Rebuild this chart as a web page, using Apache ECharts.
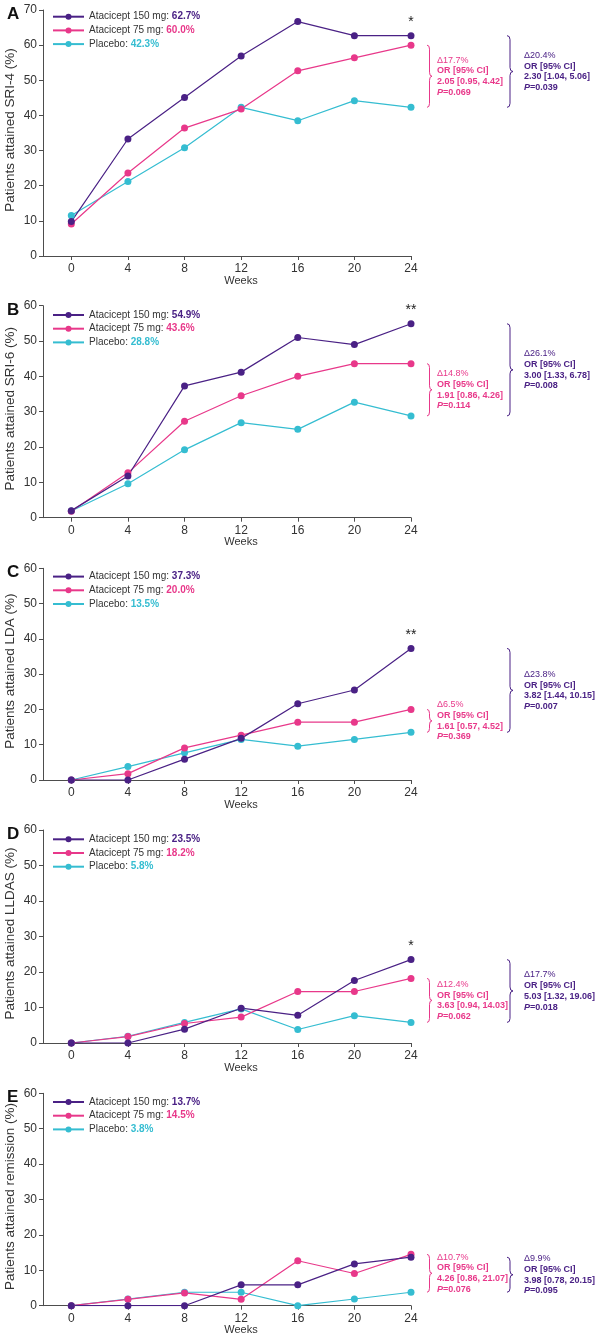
<!DOCTYPE html>
<html>
<head>
<meta charset="utf-8">
<script src="https://cdn.jsdelivr.net/npm/echarts@6/dist/echarts.min.js"></script>
<style>
html,body{margin:0;padding:0;background:#fff;}
#c{width:601px;height:1339px;}
</style>
</head>
<body>
<div id="c"></div>
<script>
// ---------- data ----------
const weeks = [0, 4, 8, 12, 16, 20, 24];
const panelLetters = ['A', 'B', 'C', 'D', 'E'];
const yAxisNames = [
  'Patients attained SRI-4 (%)',
  'Patients attained SRI-6 (%)',
  'Patients attained LDA (%)',
  'Patients attained LLDAS (%)',
  'Patients attained remission (%)'
];
const yAxisMax = [70, 60, 60, 60, 60];
const groupLabels = ['Atacicept 150 mg', 'Atacicept 75 mg', 'Placebo'];

const sri4_150 = [9.8, 33.3, 45.1, 56.9, 66.7, 62.7, 62.7];
const sri4_75  = [9.1, 23.6, 36.4, 41.8, 52.7, 56.4, 60.0];
const sri4_pbo = [11.5, 21.2, 30.8, 42.3, 38.5, 44.2, 42.3];

const sri6_150 = [2.0, 11.8, 37.3, 41.2, 51.0, 49.0, 54.9];
const sri6_75  = [1.8, 12.7, 27.3, 34.5, 40.0, 43.6, 43.6];
const sri6_pbo = [1.9, 9.6, 19.2, 26.9, 25.0, 32.7, 28.8];

const lda_150 = [0, 0, 5.9, 11.8, 21.6, 25.5, 37.3];
const lda_75  = [0, 1.8, 9.1, 12.7, 16.4, 16.4, 20.0];
const lda_pbo = [0, 3.8, 7.7, 11.5, 9.6, 11.5, 13.5];

const lldas_150 = [0, 0, 3.9, 9.8, 7.8, 17.6, 23.5];
const lldas_75  = [0, 1.8, 5.5, 7.3, 14.5, 14.5, 18.2];
const lldas_pbo = [0, 1.9, 5.8, 9.6, 3.8, 7.7, 5.8];

const rem_150 = [0, 0, 0, 5.9, 5.9, 11.8, 13.7];
const rem_75  = [0, 1.8, 3.6, 1.8, 12.7, 9.1, 14.5];
const rem_pbo = [0, 1.9, 3.8, 3.8, 0, 1.9, 3.8];

const sigMarks = ['*', '**', '**', '*', ''];

// annotation text: [delta, OR line, estimate, p-value]
const notes75 = [
  ['\u039417.7%', 'OR [95% CI]', '2.05 [0.95, 4.42]', '0.069'],
  ['\u039414.8%', 'OR [95% CI]', '1.91 [0.86, 4.26]', '0.114'],
  ['\u03946.5%',  'OR [95% CI]', '1.61 [0.57, 4.52]', '0.369'],
  ['\u039412.4%', 'OR [95% CI]', '3.63 [0.94, 14.03]', '0.062'],
  ['\u039410.7%', 'OR [95% CI]', '4.26 [0.86, 21.07]', '0.076']
];
const notes150 = [
  ['\u039420.4%', 'OR [95% CI]', '2.30 [1.04, 5.06]', '0.039'],
  ['\u039426.1%', 'OR [95% CI]', '3.00 [1.33, 6.78]', '0.008'],
  ['\u039423.8%', 'OR [95% CI]', '3.82 [1.44, 10.15]', '0.007'],
  ['\u039417.7%', 'OR [95% CI]', '5.03 [1.32, 19.06]', '0.018'],
  ['\u03949.9%',  'OR [95% CI]', '3.98 [0.78, 20.15]', '0.095']
];

const panels = [
  [sri4_150, sri4_75, sri4_pbo],
  [sri6_150, sri6_75, sri6_pbo],
  [lda_150, lda_75, lda_pbo],
  [lldas_150, lldas_75, lldas_pbo],
  [rem_150, rem_75, rem_pbo]
];

// ---------- styling / layout ----------
const COLORS = ['#4a2185', '#e8388a', '#35bdd1'];
const FONT = 'Liberation Sans, Arial, Helvetica, sans-serif';
const gridTops = [10, 305.7, 568.3, 830, 1093.3];
const gridHeights = [246, 212, 211.7, 213, 212.4];
const legendOffsets = [6.7, 9.3, 8.3, 9.3, 8.7];
const axisColor = '#4d4d4d';
const labelColor = '#333';

const grids = [], xAxes = [], yAxes = [], series = [], legends = [], titles = [];
const legendText = {};

panels.forEach((arrs, p) => {
  grids.push({ left: 43, width: 368, top: gridTops[p], height: gridHeights[p],
               containLabel: false, outerBoundsMode: 'none' });
  xAxes.push({
    type: 'value', gridIndex: p, min: -2, max: 24,
    name: 'Weeks', nameLocation: 'middle', nameGap: 19, nameMoveOverlap: false,
    nameTextStyle: { fontSize: 11, color: labelColor, fontFamily: FONT, padding: [0, 0, 0, 28] },
    axisLine: { show: true, onZero: false, lineStyle: { color: axisColor, width: 1 } },
    axisTick: { show: true, length: 4, customValues: weeks, lineStyle: { color: axisColor } },
    axisLabel: { customValues: weeks, fontSize: 12, color: labelColor, fontFamily: FONT, margin: 7 },
    splitLine: { show: false }
  });
  yAxes.push({
    type: 'value', gridIndex: p, min: 0, max: yAxisMax[p], interval: 10,
    name: yAxisNames[p], nameLocation: 'middle', nameGap: 26, nameMoveOverlap: false,
    nameTextStyle: { fontSize: 13.5, color: labelColor, fontFamily: FONT, padding: [0, 0, 0, 6] },
    axisLine: { show: true, onZero: false, lineStyle: { color: axisColor, width: 1 } },
    axisTick: { show: true, length: 4, lineStyle: { color: axisColor } },
    axisLabel: { fontSize: 12, color: labelColor, fontFamily: FONT, margin: 6 },
    splitLine: { show: false }
  });
  titles.push({
    text: panelLetters[p], left: 2, top: gridTops[p] - 9,
    textStyle: { fontSize: 17, fontWeight: 'bold', color: '#111', fontFamily: FONT }
  });

  const names = [];
  // draw order: placebo, 75, 150 (150 on top)
  [2, 1, 0].forEach(g => {
    const name = panelLetters[p] + '-' + g;
    const arr = arrs[g];
    const data = weeks.map((w, i) => {
      if (g === 0 && i === weeks.length - 1 && sigMarks[p]) {
        return {
          value: [w, arr[i]],
          label: { show: true, formatter: sigMarks[p], position: 'top', distance: 3,
                   fontSize: 14, color: '#222', fontFamily: FONT }
        };
      }
      return [w, arr[i]];
    });
    series.push({
      name, type: 'line', xAxisIndex: p, yAxisIndex: p, data,
      symbol: 'circle', symbolSize: 7, showSymbol: true,
      color: COLORS[g],
      lineStyle: { width: 1.2, color: COLORS[g] },
      itemStyle: { color: COLORS[g] },
      emphasis: { disabled: true }, silent: true, animation: false
    });
    legendText[name] = '{n|' + groupLabels[g] + ': }{v' + g + '|' + arr[arr.length - 1].toFixed(1) + '%}';
  });
  [0, 1, 2].forEach(g => names.push(panelLetters[p] + '-' + g));

  legends.push({
    orient: 'vertical', left: 52, top: gridTops[p] + legendOffsets[p] - 6,
    padding: 0, itemWidth: 31, itemHeight: 7.5, itemGap: 1.7,
    selectedMode: false, data: names,
    formatter: n => legendText[n],
    textStyle: {
      fontFamily: FONT, fontSize: 10, lineHeight: 12, color: labelColor,
      rich: {
        n: { fontSize: 10, lineHeight: 12, color: labelColor, fontFamily: FONT },
        v0: { fontSize: 10, lineHeight: 12, color: COLORS[0], fontWeight: 'bold', fontFamily: FONT },
        v1: { fontSize: 10, lineHeight: 12, color: COLORS[1], fontWeight: 'bold', fontFamily: FONT },
        v2: { fontSize: 10, lineHeight: 12, color: COLORS[2], fontWeight: 'bold', fontFamily: FONT }
      }
    }
  });

  // annotation braces + texts, positioned through the axis scales
  const last = weeks.length - 1;
  const noteData = [
    [weeks[last], arrs[1][last], arrs[2][last], 1],
    [weeks[last], arrs[0][last], arrs[2][last], 0]
  ];
  series.push({
    type: 'custom', xAxisIndex: p, yAxisIndex: p, clip: false, silent: true, z: 5,
    animation: false,
    encode: { x: 0, y: [1, 2] },
    data: noteData,
    renderItem: (params, api) => {
      const g = api.value(3);
      const top = api.coord([api.value(0), api.value(1)]);
      const bot = api.coord([api.value(0), api.value(2)]);
      const col = COLORS[g];
      const x0 = top[0] + (g === 1 ? 16 : 96);
      const w = g === 1 ? 5 : 6;
      const yT = top[1], yB = bot[1], ym = (yT + yB) / 2;
      const r = Math.min(4, (yB - yT) / 4);
      const xm = x0 + w / 2;
      const d = 'M' + x0 + ' ' + yT +
        ' Q' + xm + ' ' + yT + ' ' + xm + ' ' + (yT + r) +
        ' L' + xm + ' ' + (ym - r) +
        ' Q' + xm + ' ' + ym + ' ' + (x0 + w) + ' ' + ym +
        ' Q' + xm + ' ' + ym + ' ' + xm + ' ' + (ym + r) +
        ' L' + xm + ' ' + (yB - r) +
        ' Q' + xm + ' ' + yB + ' ' + x0 + ' ' + yB;
      const n = (g === 1 ? notes75 : notes150)[p];
      const txt = '{d|' + n[0] + '}\n{b|' + n[1] + '}\n{b|' + n[2] + '}\n{i|P}{b|=' + n[3] + '}';
      const base = { fill: col, fontSize: 9, lineHeight: 10.7, fontFamily: FONT };
      return {
        type: 'group',
        children: [
          { type: 'path', shape: { pathData: d }, style: { stroke: col, fill: null, lineWidth: 1 } },
          {
            type: 'text', x: x0 + (g === 1 ? 10 : 17), y: ym,
            style: {
              text: txt, fill: col, fontSize: 9, lineHeight: 10.7, fontFamily: FONT,
              align: 'left', verticalAlign: 'middle',
              rich: {
                d: Object.assign({}, base, { fontWeight: 'normal' }),
                b: Object.assign({}, base, { fontWeight: 'bold' }),
                i: Object.assign({}, base, { fontWeight: 'bold', fontStyle: 'italic' })
              }
            }
          }
        ]
      };
    }
  });
});

const chart = echarts.init(document.getElementById('c'), null, { renderer: 'canvas' });
chart.setOption({
  backgroundColor: '#fff',
  animation: false,
  title: titles,
  grid: grids,
  xAxis: xAxes,
  yAxis: yAxes,
  legend: legends,
  series
});
</script>
</body>
</html>
